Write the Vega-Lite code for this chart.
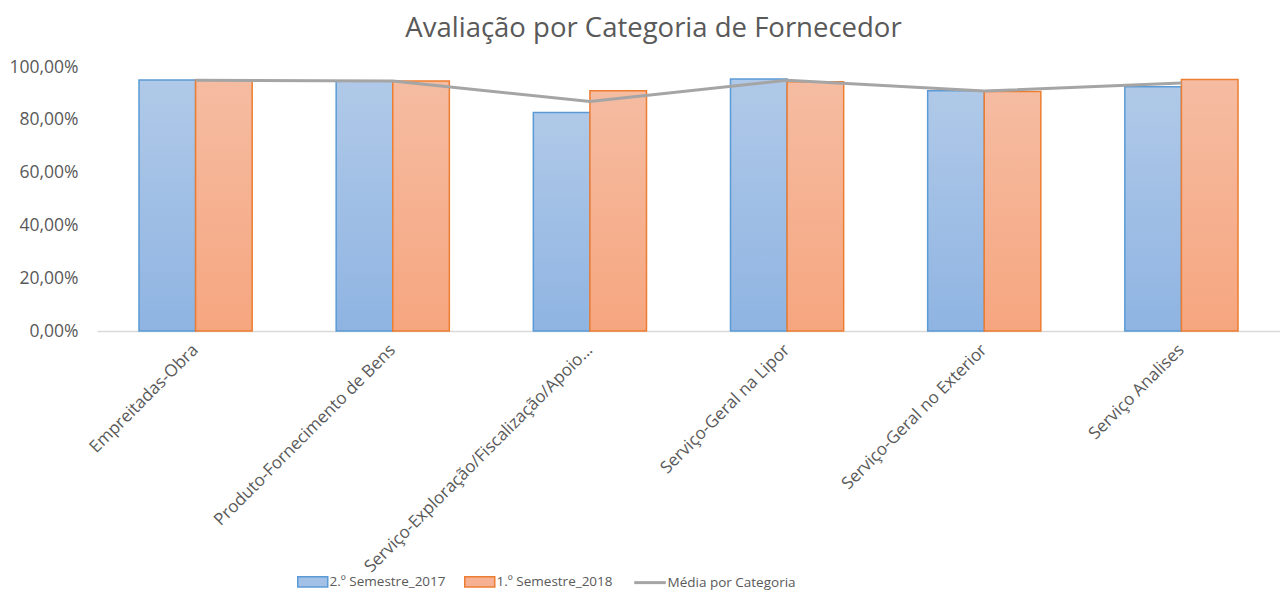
{
  "$schema": "https://vega.github.io/schema/vega-lite/v6.json",
  "width": 1183,
  "height": 264,
  "autosize": {"type": "none"},
  "padding": {"left": 97, "top": 67, "right": 0, "bottom": 268},
  "config": {"font": "Open Sans", "view": {"stroke": null}},
  "title": {"text": "Avaliação por Categoria de Fornecedor", "fontSize": 27.5, "font": "Open Sans", "fontWeight": "normal", "color": "#595959", "anchor": "middle", "frame": "group", "dx": -35, "offset": 16},
  "data": {"values": [
    {"cat": "Empreitadas-Obra", "serie": "2.º Semestre_2017", "valor": 0.951},
    {"cat": "Empreitadas-Obra", "serie": "1.º Semestre_2018", "valor": 0.951},
    {"cat": "Empreitadas-Obra", "serie": "Média por Categoria", "valor": 0.950},
    {"cat": "Produto-Fornecimento de Bens", "serie": "2.º Semestre_2017", "valor": 0.947},
    {"cat": "Produto-Fornecimento de Bens", "serie": "1.º Semestre_2018", "valor": 0.947},
    {"cat": "Produto-Fornecimento de Bens", "serie": "Média por Categoria", "valor": 0.947},
    {"cat": "Serviço-Exploração/Fiscalização/Apoio...", "serie": "2.º Semestre_2017", "valor": 0.828},
    {"cat": "Serviço-Exploração/Fiscalização/Apoio...", "serie": "1.º Semestre_2018", "valor": 0.910},
    {"cat": "Serviço-Exploração/Fiscalização/Apoio...", "serie": "Média por Categoria", "valor": 0.869},
    {"cat": "Serviço-Geral na Lipor", "serie": "2.º Semestre_2017", "valor": 0.955},
    {"cat": "Serviço-Geral na Lipor", "serie": "1.º Semestre_2018", "valor": 0.944},
    {"cat": "Serviço-Geral na Lipor", "serie": "Média por Categoria", "valor": 0.950},
    {"cat": "Serviço-Geral no Exterior", "serie": "2.º Semestre_2017", "valor": 0.910},
    {"cat": "Serviço-Geral no Exterior", "serie": "1.º Semestre_2018", "valor": 0.907},
    {"cat": "Serviço-Geral no Exterior", "serie": "Média por Categoria", "valor": 0.909},
    {"cat": "Serviço Analises", "serie": "2.º Semestre_2017", "valor": 0.925},
    {"cat": "Serviço Analises", "serie": "1.º Semestre_2018", "valor": 0.953},
    {"cat": "Serviço Analises", "serie": "Média por Categoria", "valor": 0.939}
  ]},
  "encoding": {
    "x": {"field": "cat", "type": "nominal", "sort": null,
      "scale": {"paddingInner": 0.426, "paddingOuter": 0.213},
      "axis": {"title": null, "labelAngle": -45, "labelAlign": "right", "labelBaseline": "middle", "labelFontSize": 17, "labelColor": "#595959", "labelFont": "Open Sans", "domainColor": "#d9d9d9", "domainWidth": 1.5, "ticks": false, "labelPadding": 16, "labelLimit": 500}},
    "y": {"field": "valor", "type": "quantitative",
      "scale": {"domain": [0, 1]},
      "axis": {"title": null, "values": [0, 0.2, 0.4, 0.6, 0.8, 1], "labelExpr": "replace(format(datum.value, '.2%'), '.', ',')", "grid": false, "domain": false, "ticks": false, "labelPadding": 19, "labelFontSize": 17.5, "labelColor": "#595959", "labelFont": "Open Sans"}},
    "stroke": {"field": "serie", "type": "nominal",
      "scale": {"domain": ["2.º Semestre_2017", "1.º Semestre_2018", "Média por Categoria"], "range": ["#5b9bd5", "#ed7d31", "#a5a5a5"]},
      "legend": {"orient": "none", "legendX": 209, "legendY": 508, "direction": "horizontal", "title": null,
        "labelFont": "Open Sans", "labelFontSize": 13.5, "labelColor": "#595959", "labelOffset": 10,
        "columnPadding": 15, "symbolSize": 3600, "symbolType": "M-0.5,-0.167H0.5V0.167H-0.5Z", "symbolStrokeWidth": 1.5,
        "encode": {"symbols": {"update": {
          "fill": {"signal": "datum.value == '2.º Semestre_2017' ? '#a3c1e7' : datum.value == '1.º Semestre_2018' ? '#f6b093' : 'transparent'"},
          "shape": {"signal": "datum.value == 'Média por Categoria' ? 'M-0.55,0H0.5' : 'M-0.5,-0.167H0.5V0.167H-0.5Z'"},
          "strokeWidth": {"signal": "datum.value == 'Média por Categoria' ? 3 : 1.5"},
          "opacity": {"value": 1}
        }}}}}
  },
  "layer": [
    {
      "transform": [{"filter": "datum.serie != 'Média por Categoria'"}],
      "mark": {"type": "bar", "strokeWidth": 1.5},
      "encoding": {
        "xOffset": {"field": "serie", "type": "nominal", "sort": ["2.º Semestre_2017", "1.º Semestre_2018"], "scale": {"paddingInner": 0, "paddingOuter": 0}},
        "fill": {
          "condition": {"test": "datum.serie == '2.º Semestre_2017'", "value": {"gradient": "linear", "x1": 0, "y1": 0, "x2": 0, "y2": 1, "stops": [{"offset": 0, "color": "#b0c9e8"}, {"offset": 1, "color": "#8fb4e2"}]}},
          "value": {"gradient": "linear", "x1": 0, "y1": 0, "x2": 0, "y2": 1, "stops": [{"offset": 0, "color": "#f5bca2"}, {"offset": 1, "color": "#f6a67f"}]}
        }
      }
    },
    {
      "transform": [{"filter": "datum.serie == 'Média por Categoria'"}],
      "mark": {"type": "line", "strokeWidth": 3},
      "encoding": {}
    }
  ]
}
